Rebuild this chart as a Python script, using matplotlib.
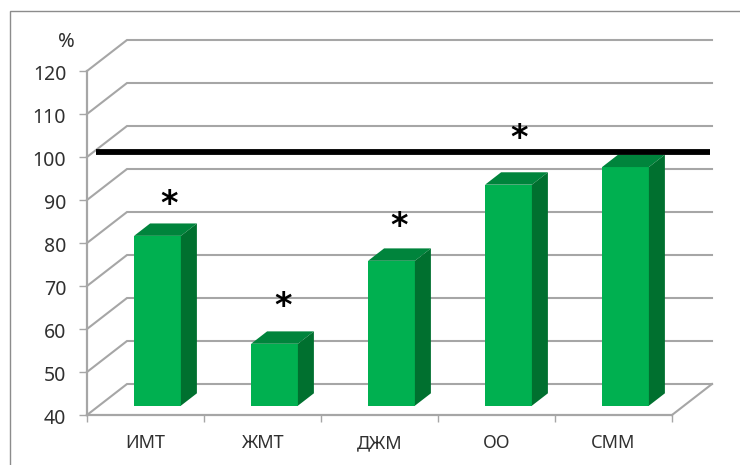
import matplotlib
matplotlib.use('Agg')
import matplotlib.pyplot as plt
from matplotlib.lines import Line2D
from matplotlib.patches import Polygon
from matplotlib.transforms import ScaledTranslation

categories = ['ИМТ', 'ЖМТ', 'ДЖМ', 'ОО', 'СММ']
values = [79.5, 54.4, 73.7, 91.4, 95.5]
yticks = [40, 50, 60, 70, 80, 90, 100, 110, 120]
ref_level = 100
# (category position, value) of the significance marks
star_x = [0.2, 1.18, 2.17, 3.19]
star_y = [89.0, 65.3, 83.9, 104.3]

W, H = 740, 465
DX = 40 / 117.0   # depth of the 3d box, in category units
DY = 31 / 4.3     # depth of the 3d box, in value units
GRID = '#a6a6a6'
FRONT = '#00b050'
TOP = '#00843c'
SIDE = '#00702f'
TEXT = '#303030'
FONT = ['Noto Sans', 'DejaVu Sans']


def proj(x, v, d):
    return (x + d * DX, v + d * DY)


fig = plt.figure(figsize=(W / 100, H / 100), dpi=100)
fig.patch.set_facecolor('white')
ax = fig.add_axes([87 / W, 1 - 415 / H, 585 / W, 344 / H])
ax.set_xlim(0, 5)
ax.set_ylim(40, 120)
ax.patch.set_visible(False)

# frame, only its top and left edges are inside the canvas
fx = 9.5 / W
fy = 1 - 11.5 / H
fig.add_artist(Line2D([fx, fx, 1], [0, fy, fy], color='#8c8c8c', lw=1.0,
                      transform=fig.transFigure, solid_joinstyle='miter'))

# walls and floor of the box
for v in yticks:
    xs = [0, DX, 5 + DX]
    ys = [v, v + DY, v + DY]
    ax.plot(xs, ys, color=GRID, lw=1.5, clip_on=False, zorder=1, solid_joinstyle='miter')
ax.plot([5, 5 + DX], [40, 40 + DY], color=GRID, lw=1.5, clip_on=False, zorder=1)

for s in ['top', 'right']:
    ax.spines[s].set_visible(False)
for s in ['left', 'bottom']:
    ax.spines[s].set_color(GRID)
    ax.spines[s].set_linewidth(1.6)
    ax.spines[s].set_zorder(2)

ax.set_yticks(yticks)
ax.set_xticks(range(6))
ax.set_xticklabels([])
ax.set_xticks([i + 0.5 for i in range(5)], minor=True)
ax.set_xticklabels(categories, minor=True, fontsize=13, family=FONT, color=TEXT, va='baseline')
ax.tick_params(axis='x', which='minor', length=0, pad=24)
ax.tick_params(axis='x', which='major', length=5, width=1, color=GRID)
ax.tick_params(axis='y', length=6, width=1, color=GRID, pad=9)
shift = ScaledTranslation(0, -1.5 / 100, fig.dpi_scale_trans)
for t in ax.get_yticklabels():
    t.set_fontsize(14)
    t.set_family(FONT)
    t.set_color(TEXT)
    t.set_transform(t.get_transform() + shift)

# 3d bars
for i, v in enumerate(values):
    x0 = i + 0.5 - 0.2
    x1 = i + 0.5 + 0.2
    d0, d1 = 0.3, 0.7
    front = [proj(x0, 40, d0), proj(x1, 40, d0), proj(x1, v, d0), proj(x0, v, d0)]
    top = [proj(x0, v, d0), proj(x1, v, d0), proj(x1, v, d1), proj(x0, v, d1)]
    side = [proj(x1, 40, d0), proj(x1, 40, d1), proj(x1, v, d1), proj(x1, v, d0)]
    ax.add_patch(Polygon(front, fc=FRONT, ec='none', clip_on=False, zorder=3))
    ax.add_patch(Polygon(top, fc=TOP, ec='none', clip_on=False, zorder=3))
    ax.add_patch(Polygon(side, fc=SIDE, ec='none', clip_on=False, zorder=3))

# reference line, sits just in front of the bars
line_d = 0.15
p0 = proj(0.026, ref_level, line_d)
p1 = proj(5.273, ref_level, line_d)
ax.plot([p0[0], p1[0]], [p0[1], p1[1]], color='black', lw=4.2, clip_on=False,
        zorder=4, solid_capstyle='butt')

for x, y in zip(star_x, star_y):
    ax.text(x + 0.5, y, '*', fontsize=24, family=['DejaVu Sans'], fontweight='bold',
            ha='center', va='center', color='black', zorder=5)

ax.text(-0.18, 126.8, '%', fontsize=14.5, family=FONT, color=TEXT, ha='center', va='center')

fig.savefig('out.png', dpi=100, facecolor='white')
